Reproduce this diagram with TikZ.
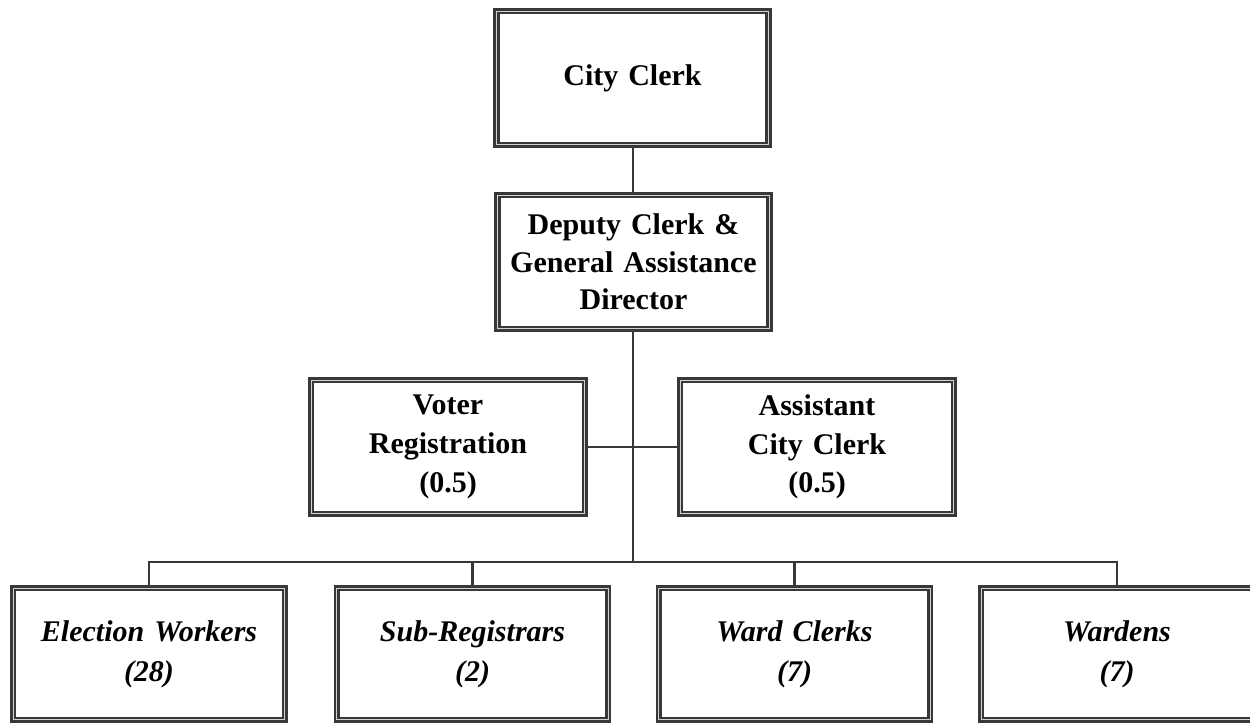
\documentclass[tikz,border=0pt]{standalone}
\usepackage{fontspec}
\setmainfont{Liberation Serif}
\begin{document}
\begin{tikzpicture}[x=0.75pt,y=-0.75pt,
  box/.style={draw=black!78, line width=1.9pt, double=gray!35, double distance=0.9pt,
    fill=white, align=center, inner sep=2pt, text width=195pt,
    font=\fontsize{22.5}{28}\selectfont\bfseries},
  topbox/.style={box, minimum width=204pt, minimum height=100pt},
  midbox/.style={box, minimum width=205pt, minimum height=100pt,
    font=\fontsize{22.5}{29}\selectfont\bfseries},
  lowbox/.style={box, minimum width=203.5pt, minimum height=98.5pt,
    font=\fontsize{22.5}{30}\selectfont\bfseries\itshape},
  conn/.style={draw=black!78, line width=2.2pt}]
\useasboundingbox (0,0) rectangle (1250,724);
\node[topbox] (city) at (632.5,78) {City Clerk};
\node[topbox] (deputy) at (633.5,262) {Deputy Clerk \&\\General Assistance\\Director};
\node[midbox] (voter) at (448,447) {Voter\\Registration\\(0.5)};
\node[midbox] (asst) at (817,447) {Assistant\\City Clerk\\(0.5)};
\node[lowbox] (elect) at (149,654) {Election Workers\\(28)};
\node[lowbox] (sub) at (472.5,654) {Sub-Registrars\\(2)};
\node[lowbox] (ward) at (794.5,654) {Ward Clerks\\(7)};
\node[lowbox] (wardens) at (1117,654) {Wardens\\(7)};
\coordinate (mid) at (633,447);
\coordinate (bus) at (633,562);
\draw[conn] (city.south -| mid) -- (deputy.north -| mid);
\draw[conn] (deputy.south -| mid) -- (bus);
\draw[conn] (voter.east |- mid) -- (asst.west |- mid);
\draw[conn] (elect.north) -- (elect.north |- bus) -- (wardens.north |- bus) -- (wardens.north);
\draw[conn] (sub.north) -- (sub.north |- bus);
\draw[conn] (ward.north) -- (ward.north |- bus);
\end{tikzpicture}
\end{document}
